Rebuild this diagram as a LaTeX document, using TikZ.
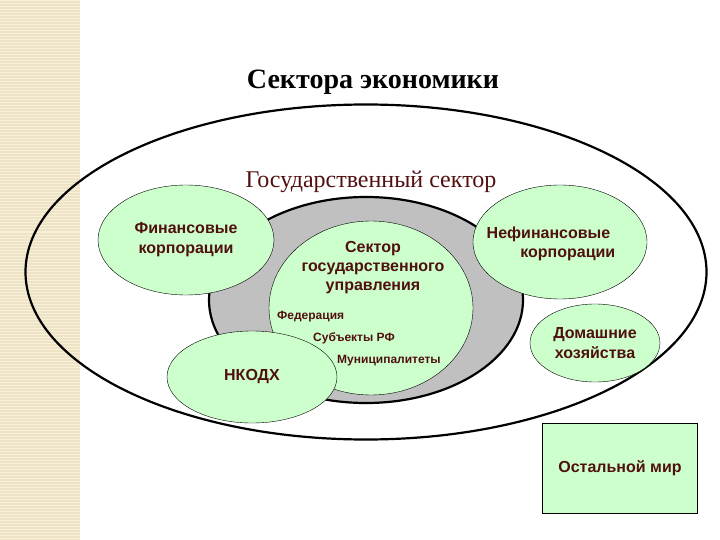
\documentclass[tikz,border=0pt]{standalone}
\usepackage{fontspec}
\setmainfont{Liberation Serif}
\setsansfont{Liberation Sans}
\usepackage{tikz}
\usetikzlibrary{positioning,shapes.geometric}
\definecolor{secgreen}{RGB}{204,255,204}
\definecolor{secgray}{RGB}{192,192,192}
\definecolor{sectext}{RGB}{80,16,16}
\definecolor{secbeige}{RGB}{238,227,196}
\definecolor{secbeigelt}{RGB}{247,240,218}
\tikzset{
  secbig/.style={ellipse, draw, line width=2.2pt, inner sep=0pt},
  secell/.style={ellipse, draw, thin, fill=secgreen, inner sep=0pt, align=center,
    font=\sffamily\bfseries\fontsize{16}{20}\selectfont, text=sectext},
  seclabel/.style={font=\sffamily\bfseries\fontsize{16}{19}\selectfont, text=sectext, align=center},
  secsmall/.style={font=\sffamily\bfseries\fontsize{12}{14}\selectfont, text=sectext,
    inner sep=0pt, anchor=west},
}

\begin{document}
\begin{tikzpicture}[x=1pt, y=-1pt]
  \useasboundingbox (0,0) rectangle (720,540);
  % полоса слева
  \fill[secbeige] (0,0) rectangle (80,540);
  \foreach \yy in {1,4,...,540} \draw[secbeigelt, line width=1pt] (0,\yy) -- (80,\yy);
  \node[font=\bfseries\fontsize{28}{30}\selectfont] (title) at (373,82) {Сектора экономики};
  % сектора
  \node[secbig, minimum width=681, minimum height=335] (econ) at (366,272) {};
  \node[secbig, fill=secgray, minimum width=314, minimum height=206] (gov) at (366,300) {};
  \node[text=sectext, font=\fontsize{24}{26}\selectfont] (govlab) at (371,182) {Государственный сектор};
  \node[secell, minimum width=204, minimum height=174] (admin) at (371,308) {};
  \node[seclabel] (adminlab) at (373,268) {Сектор\\государственного\\управления};
  \node[secell, minimum width=176, minimum height=110] (fin) at (186,240) {Финансовые\\корпорации};
  \node[secell, minimum width=174, minimum height=114] (nonfin) at (560,242) {};
  \node[seclabel, align=right] (nonfinlab) at (551,244) {Нефинансовые\hspace*{5pt}\\корпорации};
  \node[secell, minimum width=170, minimum height=92] (nkodh) at (252,377) {НКОДХ};
  \node[secell, minimum width=130, minimum height=78] (home) at (595,343) {Домашние\\хозяйства};
  \node[secell, rectangle, minimum width=155, minimum height=90] (world) at (620,468) {Остальной мир};
  % уровни управления
  \node[secsmall] (fed) at (277,317) {Федерация};
  \node[secsmall] (subj) at (313,338) {Субъекты РФ};
  \node[secsmall] (mun) at (337,361) {Муниципалитеты};
\end{tikzpicture}
\end{document}
